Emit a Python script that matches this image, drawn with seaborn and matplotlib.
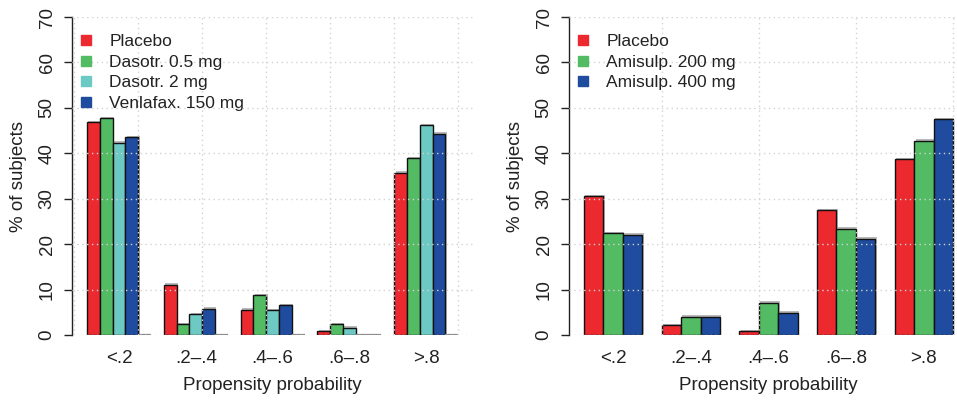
import numpy as np
import pandas as pd
import matplotlib
matplotlib.use('Agg')
import matplotlib.pyplot as plt
import matplotlib.patheffects as pe
from matplotlib.lines import Line2D
import seaborn as sns

sns.set_style('white')
plt.rcParams['font.family'] = ['Liberation Sans', 'DejaVu Sans']

# 数据
bins = ['<.2', '.2\u2013.4', '.4\u2013.6', '.6\u2013.8', '>.8']

left_groups = ['Placebo', 'Dasotr. 0.5 mg', 'Dasotr. 2 mg', 'Venlafax. 150 mg']
left_placebo = [46.9, 11.1, 5.6, 0.8, 35.7]
left_daso05 = [47.7, 2.4, 8.7, 2.4, 38.9]
left_daso2 = [42.3, 4.6, 5.4, 1.6, 46.2]
left_venla = [43.5, 5.8, 6.6, 0.0, 44.3]
left_blank = [0, 0, 0, 0, 0]  # empty slot in each group

right_groups = ['Placebo', 'Amisulp. 200 mg', 'Amisulp. 400 mg']
right_placebo = [30.6, 2.1, 0.9, 27.5, 38.7]
right_ami200 = [22.4, 4.0, 7.1, 23.4, 42.8]
right_ami400 = [22.1, 4.0, 4.9, 21.2, 47.5]

RED = '#EB292E'
GREEN = '#52BB63'
CYAN = '#6DC9C3'
BLUE = '#1F4C9E'
TXT = '#222222'


def make_df(groups, series):
    rows = []
    for g, vals in zip(groups, series):
        for b, v in zip(bins, vals):
            rows.append({'bin': b, 'group': g, 'pct': v})
    return pd.DataFrame(rows)


def draw_panel(ax, df, order, palette, width, xlim, vgrid):
    sns.barplot(data=df, x='bin', y='pct', hue='group', hue_order=order,
                order=bins, palette=palette, width=width, gap=0,
                saturation=1, edgecolor='#111111', linewidth=1.0, ax=ax,
                legend=False, zorder=2)
    for p in ax.patches:
        p.set_path_effects([pe.SimplePatchShadow(offset=(1.0, 1.0),
                                                 shadow_rgbFace='#777777',
                                                 alpha=0.5),
                            pe.Normal()])
        if p.get_height() == 0:
            p.set_edgecolor('#8a8a8a')
            p.set_linewidth(1.6)
    ax.set_xlim(*xlim)
    ax.set_ylim(0, 70)
    # dotted grid drawn above the bars, like R's grid()
    for yv in range(0, 71, 10):
        ax.axhline(yv, color='#d2d2d2', lw=1.0, ls=(0, (1, 2.5)), zorder=5)
    for xv in vgrid:
        ax.axvline(xv, color='#d2d2d2', lw=1.0, ls=(0, (1, 2.5)), zorder=5)
    for s in ['top', 'right', 'bottom']:
        ax.spines[s].set_visible(False)
    ax.spines['left'].set_color(TXT)
    ax.spines['left'].set_linewidth(1.0)
    ax.spines['left'].set_bounds(0, 70)
    ax.set_yticks(range(0, 71, 10))
    ax.tick_params(axis='y', length=6, width=1.0, color=TXT, labelsize=13.5,
                   labelcolor=TXT, pad=6, left=True)
    for lab in ax.get_yticklabels():
        lab.set_rotation(90)
        lab.set_va('center')
    ax.tick_params(axis='x', length=0, labelsize=13.5, labelcolor=TXT, pad=11)
    ax.set_xlabel('Propensity probability', fontsize=13.5, color=TXT, labelpad=7)
    ax.set_ylabel('% of subjects', fontsize=13.5, color=TXT, labelpad=8)


fig = plt.figure(figsize=(9.57, 4.0), dpi=100)

# 左图
ax1 = fig.add_axes([72.2 / 957, 65 / 400, 400.8 / 957, 318 / 400])
df1 = make_df(left_groups + [' '],
              [left_placebo, left_daso05, left_daso2, left_venla, left_blank])
pal1 = dict(zip(left_groups + [' '], [RED, GREEN, CYAN, BLUE, 'white']))
# R barplot units: slot=1, group pitch=6, center at 6i+3.5
xl1 = ((-0.16 - 3.5) / 6, (31.16 - 3.5) / 6)
vg1 = [(u - 3.5) / 6 for u in range(0, 31, 5)]
draw_panel(ax1, df1, left_groups + [' '], pal1, 5 / 6, xl1, vg1)

# 右图
ax2 = fig.add_axes([569.2 / 957, 65 / 400, 398.6 / 957, 318 / 400])
df2 = make_df(right_groups, [right_placebo, right_ami200, right_ami400])
pal2 = dict(zip(right_groups, [RED, GREEN, BLUE]))
xl2 = ((0.24 - 2.5) / 4, (20.76 - 2.5) / 4)
vg2 = [(u - 2.5) / 4 for u in range(0, 21, 5)]
draw_panel(ax2, df2, right_groups, pal2, 3 / 4, xl2, vg2)

# 图例
for ax, groups, pal in [(ax1, left_groups, pal1), (ax2, right_groups, pal2)]:
    handles = [Line2D([0], [0], marker='s', ls='none', markersize=7.5,
                      markerfacecolor=pal[g], markeredgecolor=pal[g])
               for g in groups]
    leg = ax.legend(handles, groups, loc='upper left',
                    bbox_to_anchor=(-0.018, 0.985), frameon=False,
                    fontsize=12.5, handlelength=1.0, handletextpad=0.85,
                    labelspacing=0.32, borderaxespad=0.3)
    for t in leg.get_texts():
        t.set_color(TXT)

fig.savefig('out.png', dpi=100)
